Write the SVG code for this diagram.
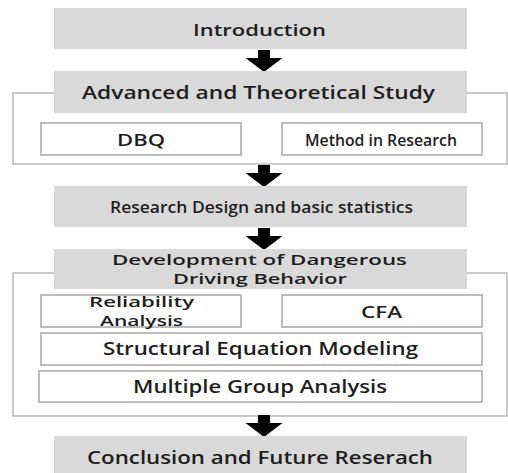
<svg xmlns="http://www.w3.org/2000/svg" width="508" height="473" viewBox="0 0 508 473">
  <defs>
    <style>
      .frame { fill: #ffffff; stroke: #b8b8b8; stroke-width: 1.5; }
      .stage { fill: #d9d9d9; stroke: none; }
      .item { fill: #ffffff; stroke: #a6a6a6; stroke-width: 1.5; }
      .lbl { font-family: "Open Sans", "Noto Sans", "DejaVu Sans", sans-serif; font-weight: 600; fill: #1e1e1e; text-anchor: middle; }
      .step { fill: #000000; }
    </style>
    <path id="down" d="M -6 0 H 6 V 8 H 18.5 L 0 22 L -18.5 8 H -6 Z"/>
  </defs>

  <rect width="508" height="473" fill="#ffffff"/>

  <!-- grouping frames -->
  <rect class="frame" x="13" y="93" width="494" height="71"/>
  <rect class="frame" x="13" y="273" width="494" height="143"/>

  <!-- flow arrows -->
  <g id="connectors" class="step">
    <use href="#down" x="264" y="50"/>
    <use href="#down" x="264" y="165"/>
    <use href="#down" x="264" y="228"/>
    <use href="#down" x="264" y="415"/>
  </g>

  <g id="introduction">
    <rect class="stage" x="54" y="8" width="413" height="41"/>
    <text class="lbl" x="259.5" y="36" font-size="17" textLength="133" lengthAdjust="spacingAndGlyphs">Introduction</text>
  </g>

  <g id="theory">
    <rect class="stage" x="54" y="71" width="413" height="42"/>
    <text class="lbl" x="258.5" y="99" font-size="17.5" textLength="353" lengthAdjust="spacingAndGlyphs">Advanced and Theoretical Study</text>
  </g>

  <g id="dbq">
    <rect class="item" x="41" y="123" width="200" height="32"/>
    <text class="lbl" x="141" y="146" font-size="17" textLength="48" lengthAdjust="spacingAndGlyphs">DBQ</text>
  </g>

  <g id="method">
    <rect class="item" x="282" y="123" width="200" height="32"/>
    <text class="lbl" x="381" y="146" font-size="16.5" textLength="152" lengthAdjust="spacingAndGlyphs">Method in Research</text>
  </g>

  <g id="design">
    <rect class="stage" x="54" y="186" width="413" height="41"/>
    <text class="lbl" x="261.5" y="213" font-size="16.5" textLength="303" lengthAdjust="spacingAndGlyphs">Research Design and basic statistics</text>
  </g>

  <g id="development">
    <rect class="stage" x="54" y="249" width="413" height="40"/>
    <text class="lbl" x="259.5" y="265" font-size="14.5" textLength="295" lengthAdjust="spacingAndGlyphs">Development of Dangerous</text>
    <text class="lbl" x="260" y="284" font-size="14.5" textLength="174" lengthAdjust="spacingAndGlyphs">Driving Behavior</text>
  </g>

  <g id="reliability">
    <rect class="item" x="41" y="295" width="200" height="32"/>
    <text class="lbl" x="141.5" y="307" font-size="14.5" textLength="105" lengthAdjust="spacingAndGlyphs">Reliability</text>
    <text class="lbl" x="141.5" y="326" font-size="14.5" textLength="83" lengthAdjust="spacingAndGlyphs">Analysis</text>
  </g>

  <g id="cfa">
    <rect class="item" x="282" y="295" width="200" height="32"/>
    <text class="lbl" x="381.5" y="318" font-size="17" textLength="41" lengthAdjust="spacingAndGlyphs">CFA</text>
  </g>

  <g id="sem">
    <rect class="item" x="41" y="333" width="441" height="32"/>
    <text class="lbl" x="260.5" y="355" font-size="17.5" textLength="315" lengthAdjust="spacingAndGlyphs">Structural Equation Modeling</text>
  </g>

  <g id="mga">
    <rect class="item" x="39" y="371" width="443" height="31"/>
    <text class="lbl" x="260" y="393" font-size="17.5" textLength="254" lengthAdjust="spacingAndGlyphs">Multiple Group Analysis</text>
  </g>

  <g id="conclusion">
    <rect class="stage" x="54" y="436" width="413" height="40"/>
    <text class="lbl" x="260" y="464" font-size="17.5" textLength="346" lengthAdjust="spacingAndGlyphs">Conclusion and Future Reserach</text>
  </g>
</svg>
